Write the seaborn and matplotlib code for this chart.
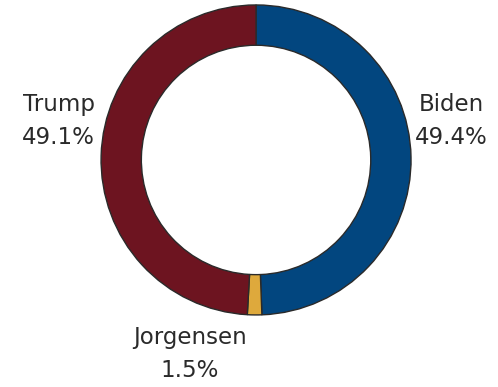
import matplotlib
matplotlib.use("Agg")
import matplotlib.pyplot as plt
import seaborn as sns

candidates = ["Biden", "Jorgensen", "Trump"]
shares = [49.4, 1.5, 49.1]
colors = ["#02467F", "#DEA93C", "#6D1420"]

sns.set_theme(style="white")
plt.rcParams['font.family'] = ['DejaVu Sans']

fig = plt.figure(figsize=(4.98, 3.87), dpi=100)
ax = fig.add_axes([0, 0, 1, 1])
ax.pie(shares, colors=sns.color_palette(colors), startangle=90, counterclock=False,
       radius=1.0, center=(0, 0),
       wedgeprops=dict(width=0.26, edgecolor="#2a2a2a", linewidth=1.0))

label_pos = {"Biden": (1.258, 0.25), "Jorgensen": (-0.426, -1.25), "Trump": (-1.273, 0.25)}
for name, val in zip(candidates, shares):
    x, y = label_pos[name]
    ax.text(x, y, f"{name}\n{val:.1f}%", ha="center", va="center", fontsize=16.5,
            color="#2a2a2a", linespacing=1.55, fontweight="normal")

ax.set_xlim(-1.652, 1.561)
ax.set_ylim(-1.465, 1.032)
ax.set_aspect("equal")
ax.axis("off")
fig.savefig("out.png", dpi=100)
